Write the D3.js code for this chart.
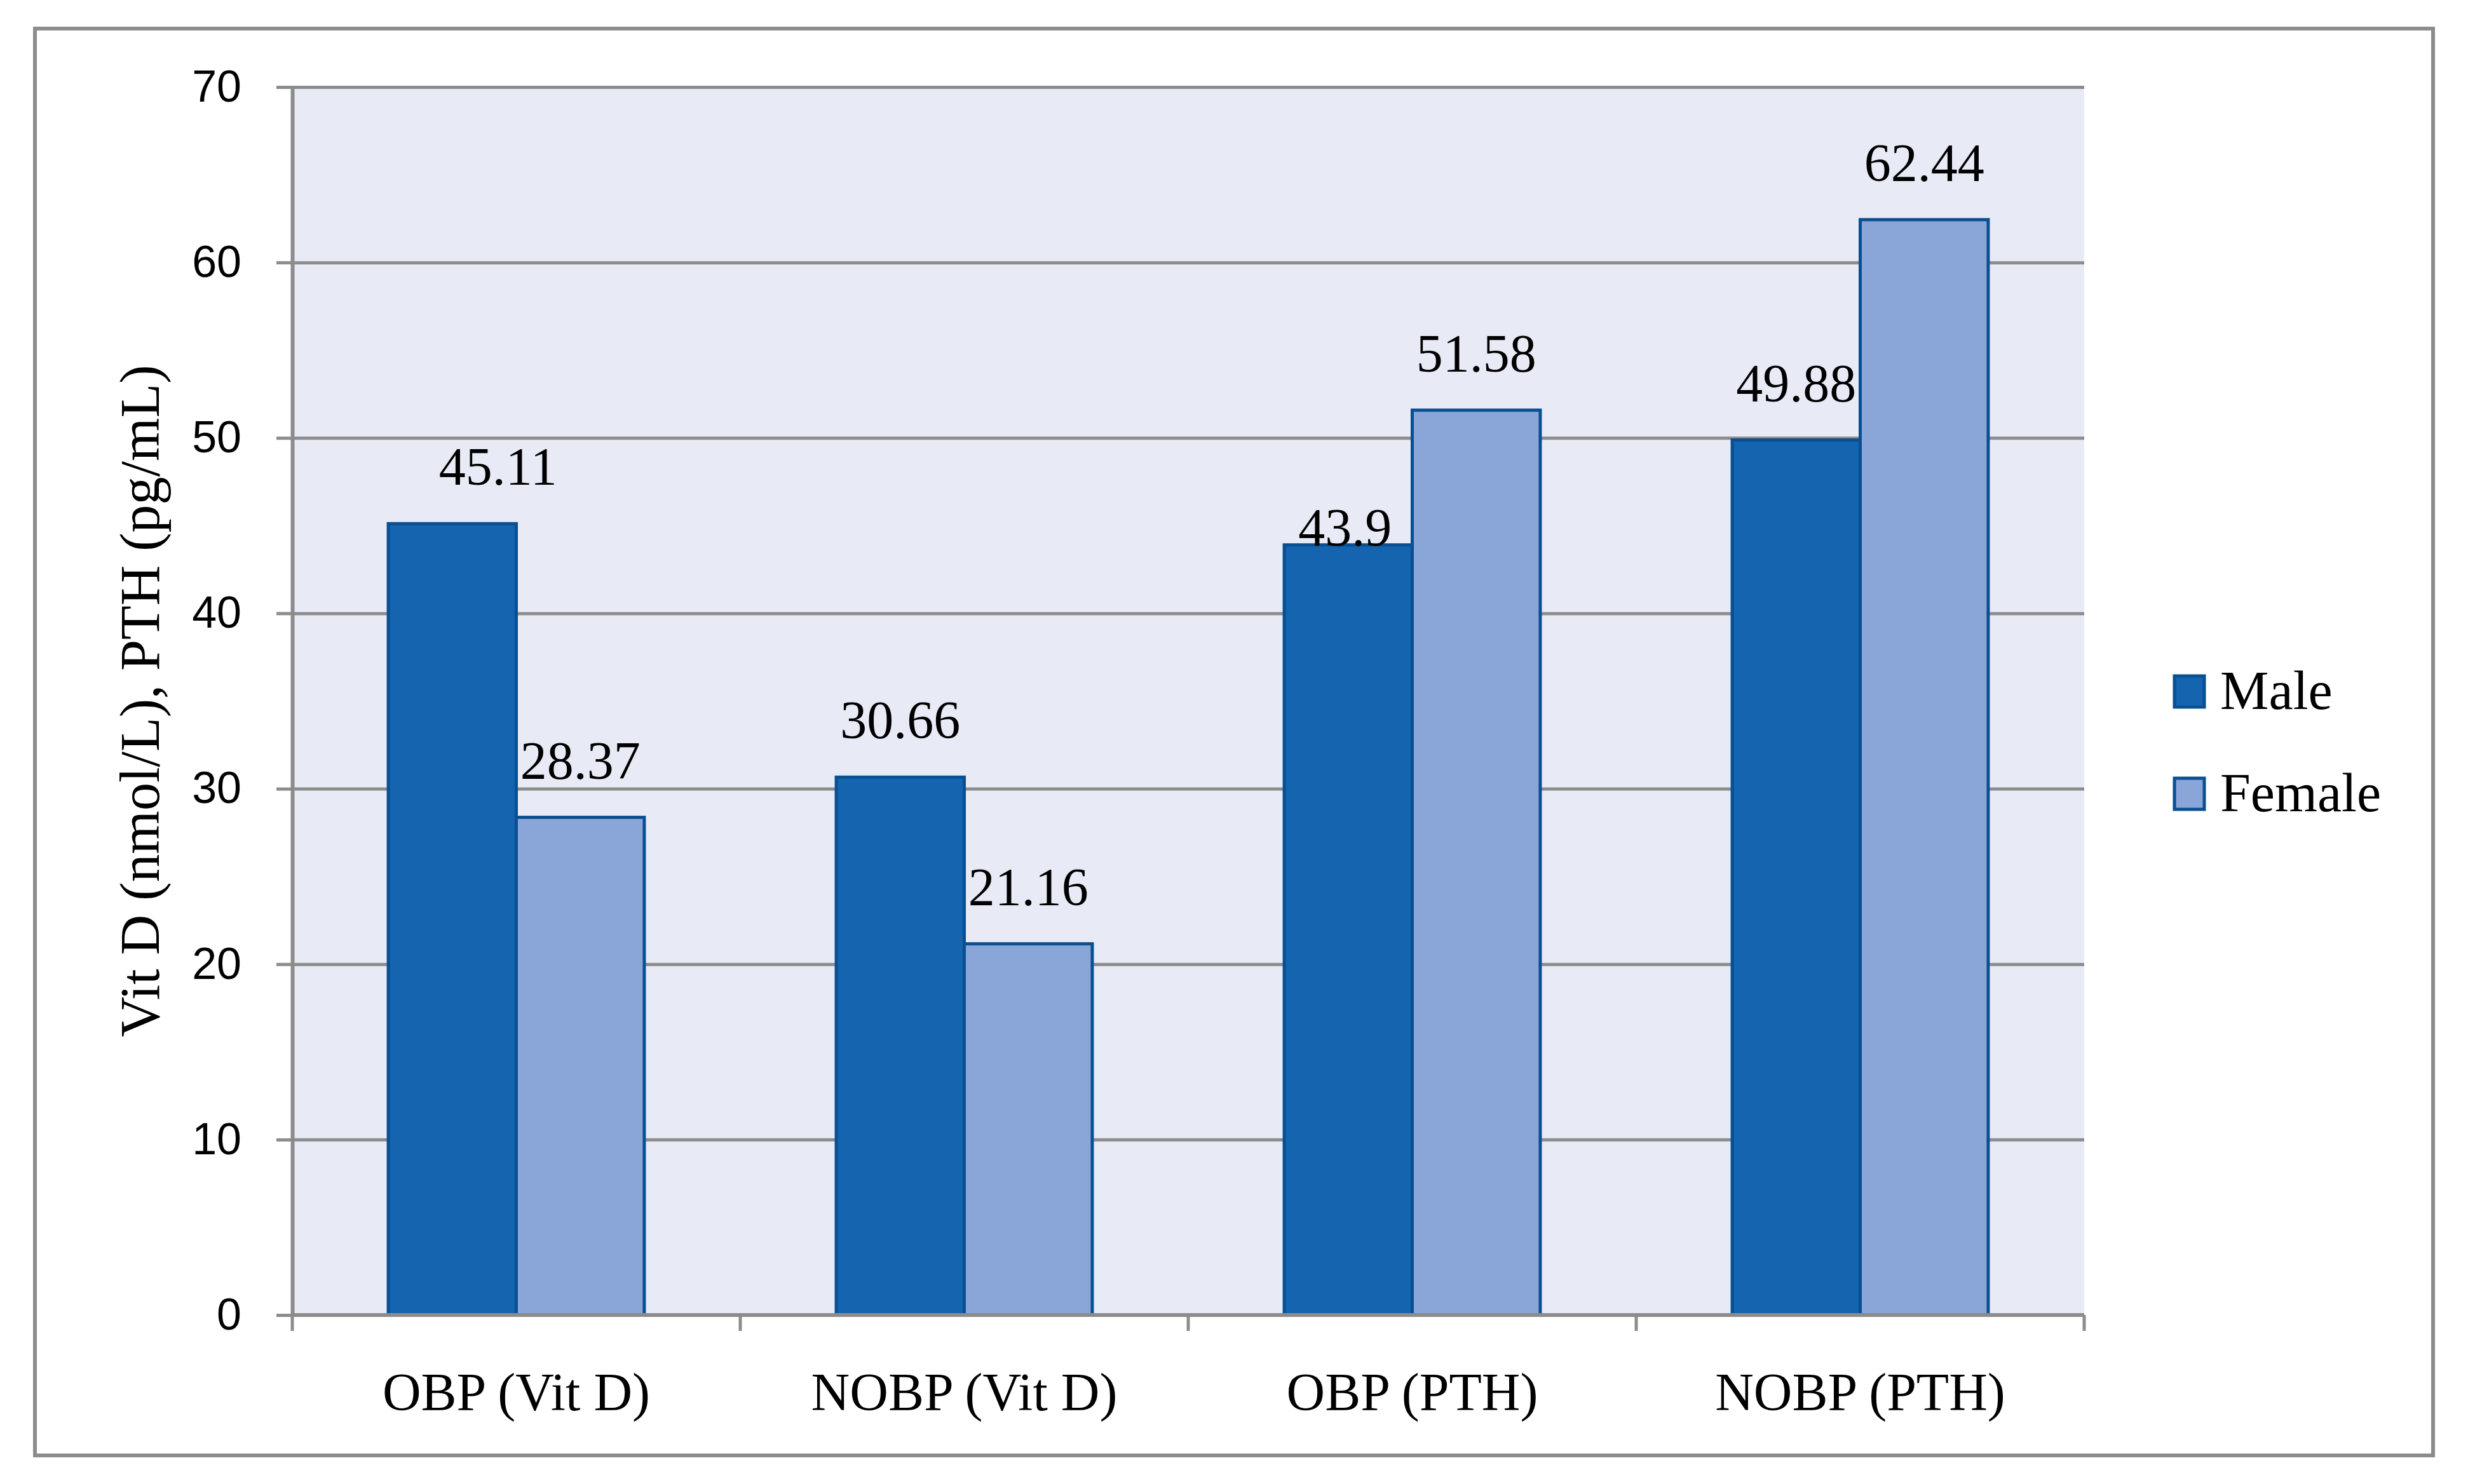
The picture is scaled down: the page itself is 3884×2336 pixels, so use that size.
<!DOCTYPE html>
<html>
<head>
<meta charset="utf-8">
<script src="https://cdn.jsdelivr.net/npm/d3@7"></script>
<style>
  body { margin: 0; background: #fff; }
  text { fill: #000; }
</style>
</head>
<body>
<svg id="chart"></svg>
<script>
(function () {
    'use strict';

    // data
    var categories = ['OBP (Vit D)', 'NOBP (Vit D)', 'OBP (PTH)', 'NOBP (PTH)'];
    var seriesNames = ['Male', 'Female'];
    var maleValues = [45.11, 30.66, 43.9, 49.88];
    var femaleValues = [28.37, 21.16, 51.58, 62.44];
    var yTicks = [0, 10, 20, 30, 40, 50, 60, 70];
    var yTitle = 'Vit D (nmol/L), PTH (pg/mL)';

    var width = 3884, height = 2336;
    const margin = { top: 137, right: 604, bottom: 266, left: 460 };
    var plotW = width - margin.left - margin.right;
    var plotH = height - margin.top - margin.bottom;

    var fills = { Male: '#1464b0', Female: '#8aa5d8' };
    var edge = '#0a4f8f';
    var grey = '#8c8c8c';
    var serif = '"Liberation Serif", "Times New Roman", serif';
    var sans = '"Liberation Sans", Arial, sans-serif';

    // label nudges like in the original (hand-moved labels)
    var nudge = { 'Male|OBP (Vit D)': [72, 0], 'Male|OBP (PTH)': [-5, 62] };

    var rows = [];
    categories.forEach((c, i) => {
        rows.push({ cat: c, series: 'Male', value: maleValues[i] });
        rows.push({ cat: c, series: 'Female', value: femaleValues[i] });
    });

    var svg = d3.select('#chart').attr('width', width).attr('height', height);

    // outer frame
    svg.append('rect')
        .attr('x', 55).attr('y', 45)
        .attr('width', 3774).attr('height', 2246)
        .attr('fill', '#fff').attr('stroke', grey).attr('stroke-width', 6);

    var g = svg.append('g').attr('transform', `translate(${margin.left},${margin.top})`);

    var x0 = d3.scaleBand().domain(categories).range([0, plotW]).padding(0);
    var x1 = d3.scaleBand().domain(seriesNames).range([0, x0.bandwidth()])
        .paddingInner(0).paddingOuter(0.75);
    var y = d3.scaleLinear().domain([0, 70]).range([plotH, 0]);

    g.append('rect')
        .attr('width', plotW).attr('height', plotH)
        .attr('fill', '#e8ebf6');

    // gridlines
    g.append('g')
        .attr('class', 'grid')
        .call(d3.axisLeft(y).tickValues(yTicks).tickSize(-plotW).tickFormat(''))
        .call(s => s.select('.domain').remove())
        .selectAll('line').attr('stroke', grey).attr('stroke-width', 5);

    // bars
    g.selectAll('rect.bar')
        .data(rows)
        .enter()
        .append('rect')
        .attr('class', 'bar')
        .attr('x', d => x0(d.cat) + x1(d.series))
        .attr('width', x1.bandwidth())
        .attr('y', d => y(d.value))
        .attr('height', d => y(0) - y(d.value))
        .attr('fill', d => fills[d.series])
        .attr('stroke', edge)
        .attr('stroke-width', 5);

    // value labels
    g.selectAll('text.valueLabel')
        .data(rows)
        .enter()
        .append('text')
        .attr('class', 'valueLabel')
        .attr('x', d => x0(d.cat) + x1(d.series) + x1.bandwidth() / 2 + (nudge[d.series + '|' + d.cat] || [0, 0])[0])
        .attr('y', d => y(d.value) - 61 + (nudge[d.series + '|' + d.cat] || [0, 0])[1])
        .style('text-anchor', 'middle')
        .style('font-family', serif)
        .style('font-size', '84px')
        .text(d => String(d.value));

    // y axis
    var yAxis = g.append('g')
        .call(d3.axisLeft(y).tickValues(yTicks).tickSize(25).tickSizeOuter(0).tickPadding(55));
    yAxis.select('.domain').attr('stroke', grey).attr('stroke-width', 6);
    yAxis.selectAll('.tick line').attr('stroke', grey).attr('stroke-width', 5);
    yAxis.selectAll('.tick text')
        .style('font-family', sans)
        .style('font-size', '70px')
        .attr('fill', '#000');

    // x axis: baseline plus boundary ticks
    var bounds = categories.map(c => x0(c)).concat([x0.range()[1]]);
    g.append('line')
        .attr('x1', 0).attr('x2', plotW)
        .attr('y1', y(0)).attr('y2', y(0))
        .attr('stroke', grey).attr('stroke-width', 6);
    g.selectAll('line.xtick')
        .data(bounds)
        .enter()
        .append('line')
        .attr('class', 'xtick')
        .attr('x1', d => d).attr('x2', d => d)
        .attr('y1', y(0)).attr('y2', y(0) + 25)
        .attr('stroke', grey).attr('stroke-width', 5);

    g.selectAll('text.catLabel')
        .data(categories)
        .enter()
        .append('text')
        .attr('class', 'catLabel')
        .attr('x', d => x0(d) + x0.bandwidth() / 2)
        .attr('y', y(0) + 150)
        .style('text-anchor', 'middle')
        .style('font-family', serif)
        .style('font-size', '84px')
        .text(d => d);

    // y title
    svg.append('text')
        .attr('transform', `translate(250,${margin.top + plotH / 2}) rotate(-90)`)
        .style('text-anchor', 'middle')
        .style('font-family', serif)
        .style('font-size', '88px')
        .text(yTitle);

    // legend
    var legend = svg.append('g').attr('transform', 'translate(3422,1064)');
    var items = legend.selectAll('g')
        .data(seriesNames)
        .enter()
        .append('g')
        .attr('transform', (d, i) => `translate(0,${i * 161})`);
    items.append('rect')
        .attr('width', 47).attr('height', 49)
        .attr('fill', d => fills[d])
        .attr('stroke', edge).attr('stroke-width', 5);
    items.append('text')
        .attr('x', 72).attr('y', 52)
        .style('font-family', serif)
        .style('font-size', '86px')
        .text(d => d);
}());
</script>
</body>
</html>
